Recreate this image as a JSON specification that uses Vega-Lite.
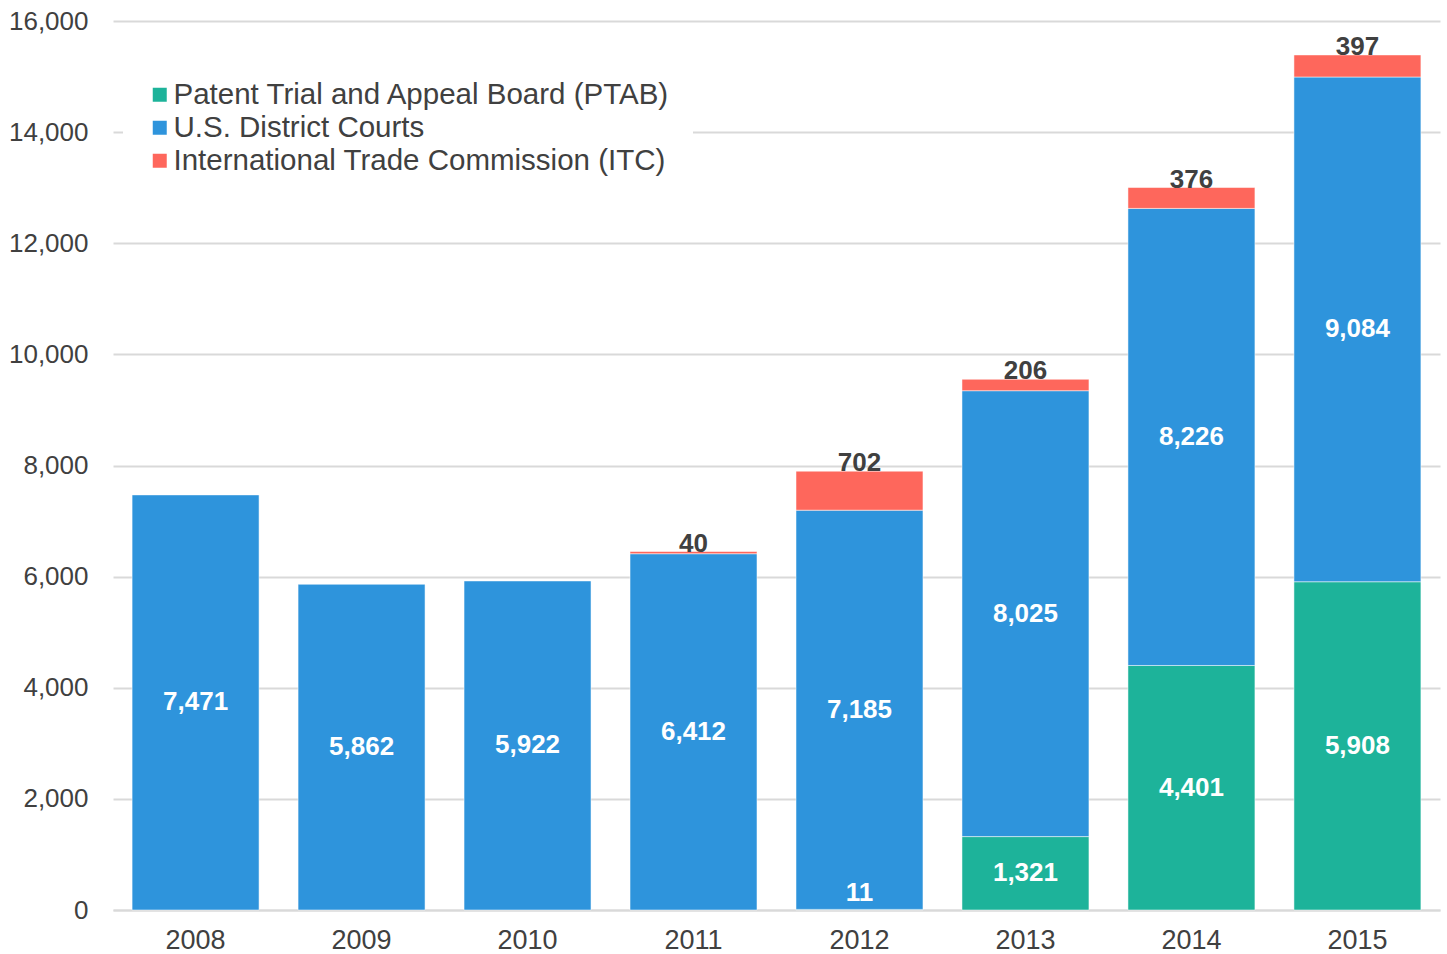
{
  "$schema": "https://vega.github.io/schema/vega-lite/v6.json",
  "autosize": {"type": "none"},
  "padding": {"left": 113, "top": 21, "right": 7, "bottom": 44},
  "width": 1327,
  "height": 889,
  "background": "white",
  "config": {
    "view": {"stroke": null},
    "font": "Liberation Sans",
    "axis": {"labelFont": "Liberation Sans", "labelColor": "#404040", "labelFontSize": 26, "ticks": false, "title": null, "labelOverlap": false}
  },
  "data": {
    "values": [
      {"year": "2008", "source": "Patent Trial and Appeal Board (PTAB)", "ord": 1, "value": 0},
      {"year": "2008", "source": "U.S. District Courts", "ord": 2, "value": 7471},
      {"year": "2008", "source": "International Trade Commission (ITC)", "ord": 3, "value": 0},
      {"year": "2009", "source": "Patent Trial and Appeal Board (PTAB)", "ord": 1, "value": 0},
      {"year": "2009", "source": "U.S. District Courts", "ord": 2, "value": 5862},
      {"year": "2009", "source": "International Trade Commission (ITC)", "ord": 3, "value": 0},
      {"year": "2010", "source": "Patent Trial and Appeal Board (PTAB)", "ord": 1, "value": 0},
      {"year": "2010", "source": "U.S. District Courts", "ord": 2, "value": 5922},
      {"year": "2010", "source": "International Trade Commission (ITC)", "ord": 3, "value": 0},
      {"year": "2011", "source": "Patent Trial and Appeal Board (PTAB)", "ord": 1, "value": 0},
      {"year": "2011", "source": "U.S. District Courts", "ord": 2, "value": 6412},
      {"year": "2011", "source": "International Trade Commission (ITC)", "ord": 3, "value": 40},
      {"year": "2012", "source": "Patent Trial and Appeal Board (PTAB)", "ord": 1, "value": 11},
      {"year": "2012", "source": "U.S. District Courts", "ord": 2, "value": 7185},
      {"year": "2012", "source": "International Trade Commission (ITC)", "ord": 3, "value": 702},
      {"year": "2013", "source": "Patent Trial and Appeal Board (PTAB)", "ord": 1, "value": 1321},
      {"year": "2013", "source": "U.S. District Courts", "ord": 2, "value": 8025},
      {"year": "2013", "source": "International Trade Commission (ITC)", "ord": 3, "value": 206},
      {"year": "2014", "source": "Patent Trial and Appeal Board (PTAB)", "ord": 1, "value": 4401},
      {"year": "2014", "source": "U.S. District Courts", "ord": 2, "value": 8226},
      {"year": "2014", "source": "International Trade Commission (ITC)", "ord": 3, "value": 376},
      {"year": "2015", "source": "Patent Trial and Appeal Board (PTAB)", "ord": 1, "value": 5908},
      {"year": "2015", "source": "U.S. District Courts", "ord": 2, "value": 9084},
      {"year": "2015", "source": "International Trade Commission (ITC)", "ord": 3, "value": 397}
    ]
  },
  "transform": [
    {"stack": "value", "groupby": ["year"], "sort": [{"field": "ord", "order": "ascending"}], "as": ["y0", "y1"]},
    {"calculate": "(datum.y0 + datum.y1) / 2", "as": "ymid"}
  ],
  "encoding": {
    "x": {
      "field": "year", "type": "nominal",
      "scale": {"paddingInner": 0.235, "paddingOuter": 0.115},
      "axis": {"labelAngle": 0, "labelPadding": 17, "labelFontSize": 27, "domainColor": "#d9d9d9", "domainWidth": 2, "grid": false}
    }
  },
  "layer": [
    {
      "mark": {"type": "bar", "stroke": "white", "strokeWidth": 1, "strokeOpacity": 0.5},
      "transform": [{"filter": "datum.value > 0"}],
      "encoding": {
        "y": {
          "field": "y1", "type": "quantitative",
          "scale": {"domain": [0, 16000], "nice": false},
          "axis": {"values": [0, 2000, 4000, 6000, 8000, 10000, 12000, 14000, 16000], "format": ",d", "labelPadding": 25, "gridColor": "#d9d9d9", "gridWidth": 2, "domain": false}
        },
        "y2": {"field": "y0"},
        "color": {
          "field": "source", "type": "nominal",
          "scale": {
            "domain": ["Patent Trial and Appeal Board (PTAB)", "U.S. District Courts", "International Trade Commission (ITC)"],
            "range": ["#1db39a", "#2e94dc", "#fe675c"]
          },
          "legend": {
            "title": null,
            "orient": "none",
            "legendX": 10,
            "legendY": 37,
            "fillColor": "white",
            "padding": 22,
            "symbolType": "square",
            "symbolSize": 196,
            "symbolStrokeWidth": 0,
            "labelFont": "Liberation Sans",
            "labelFontSize": 29.5,
            "labelColor": "#404040",
            "labelOffset": -1,
            "labelLimit": 1000,
            "rowPadding": 2
          }
        }
      }
    },
    {
      "mark": {"type": "text", "color": "white", "fontWeight": "bold", "fontSize": 26, "baseline": "middle"},
      "transform": [{"filter": "datum.ord < 3 && datum.value >= 100"}],
      "encoding": {
        "y": {"field": "ymid", "type": "quantitative"},
        "text": {"field": "value", "type": "quantitative", "format": ",d"}
      }
    },
    {
      "mark": {"type": "text", "color": "white", "fontWeight": "bold", "fontSize": 26, "baseline": "alphabetic", "dy": -9},
      "transform": [{"filter": "datum.ord < 3 && datum.value > 0 && datum.value < 100"}],
      "encoding": {
        "y": {"field": "y0", "type": "quantitative"},
        "text": {"field": "value", "type": "quantitative", "format": ",d"}
      }
    },
    {
      "mark": {"type": "text", "color": "#404040", "fontWeight": "bold", "fontSize": 26, "baseline": "alphabetic", "dy": 0},
      "transform": [{"filter": "datum.ord == 3 && datum.value > 0"}],
      "encoding": {
        "y": {"field": "y1", "type": "quantitative"},
        "text": {"field": "value", "type": "quantitative", "format": ",d"}
      }
    }
  ]
}
